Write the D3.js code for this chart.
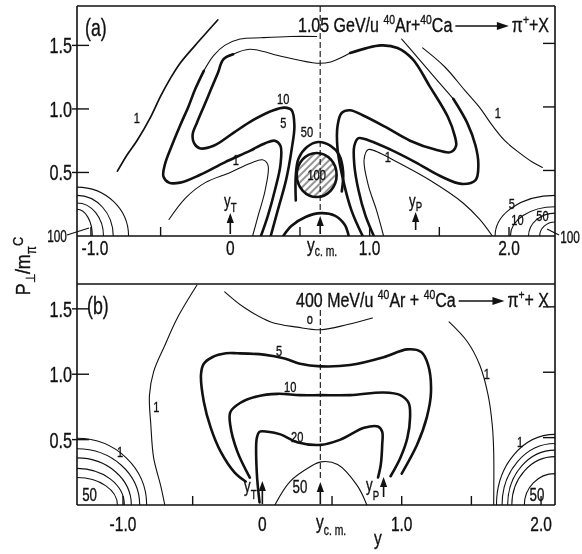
<!DOCTYPE html>
<html><head><meta charset="utf-8">
<script src="https://cdn.jsdelivr.net/npm/d3@7"></script>
<style>
body{margin:0;background:#fff;}
svg{display:block;filter:grayscale(100%);}
text{font-family:"Liberation Sans",Arial,sans-serif;fill:#111;stroke:#111;stroke-width:0.35px;}
</style></head><body>
<svg id="chart" width="582" height="554"></svg>
<script>
// ---------- panel (a): 1.05 GeV/u Ar+Ca -> pi+ X  (rapidity y, p_perp/m_pi c) ----------
const aRapidity = {yT: 0, ycm: 0.645, yP: 1.33};
const a_one_left = [[-0.81,0.51],[-0.74,0.64],[-0.67,0.75],[-0.57,0.94],[-0.50,1.10],[-0.43,1.24],[-0.36,1.36],[-0.22,1.54],[-0.09,1.70]];
const a_five_top = [[0.62,1.57],[0.43,1.57],[0.22,1.56],[0.07,1.55],[-0.04,1.50],[-0.12,1.42],[-0.19,1.30]];
const a_five_left = [[-0.19,1.30],[-0.25,1.16],[-0.30,1.02],[-0.36,0.87],[-0.42,0.71],[-0.47,0.56],[-0.48,0.47],[-0.44,0.42],[-0.36,0.42],[-0.22,0.48],[-0.04,0.58],[0.14,0.67],[0.25,0.73],[0.32,0.75],[0.36,0.71],[0.36,0.56],[0.32,0.36],[0.27,0.16],[0.22,0]];
const a_ten_left = [[0.29,0],[0.34,0.20],[0.40,0.44],[0.44,0.68],[0.46,0.87],[0.44,0.99],[0.39,1.01],[0.31,0.99],[0.16,0.91],[0.02,0.81],[-0.12,0.71],[-0.22,0.69],[-0.26,0.73],[-0.27,0.80],[-0.24,0.89],[-0.19,1.02],[-0.14,1.15],[-0.09,1.28],[-0.05,1.39],[0.02,1.43]];
const a_ten_mid = [[0.02,1.43],[0.14,1.47],[0.38,1.41],[0.62,1.36],[0.72,1.37],[0.86,1.44]];
const a_ten_right = [[0.86,1.44],[1.08,1.50],[1.20,1.48],[1.31,1.39],[1.43,1.18],[1.56,0.94],[1.61,0.79],[1.62,0.71],[1.58,0.66],[1.47,0.68],[1.29,0.75],[1.11,0.86],[0.95,0.95],[0.86,0.99],[0.80,0.97],[0.77,0.87],[0.77,0.68],[0.81,0.44],[0.87,0.20],[0.95,0]];
const a_five_right_top = [[1.23,1.55],[1.34,1.41],[1.48,1.23],[1.60,1.08]];
const a_five_right = [[1.60,1.08],[1.70,0.89],[1.76,0.71],[1.78,0.56],[1.76,0.44],[1.66,0.41],[1.51,0.47],[1.33,0.58],[1.15,0.68],[1.00,0.75],[0.92,0.77],[0.89,0.71],[0.89,0.56],[0.92,0.36],[0.97,0.16],[1.03,0]];
const a_one_right = [[1.38,1.48],[1.54,1.33],[1.68,1.15],[1.79,1.01],[1.88,0.87],[1.97,0.75],[2.08,0.65],[2.17,0.58],[2.24,0.54]];
const a_one_inner_left = [[-0.44,0.13],[-0.32,0.30],[-0.18,0.42],[0,0.50],[0.14,0.57],[0.23,0.60],[0.27,0.56],[0.25,0.36],[0.20,0.16],[0.16,0]];
const a_one_inner_right = [[1.10,0],[1.05,0.20],[0.99,0.40],[0.96,0.60],[0.99,0.68],[1.08,0.65],[1.20,0.58],[1.43,0.44],[1.67,0.26],[1.79,0.13],[1.88,0]];
const a_fifty_arch = [[0.47,0.28],[0.47,0.48],[0.49,0.61],[0.55,0.70],[0.63,0.74],[0.72,0.71],[0.78,0.64],[0.81,0.50],[0.80,0.35]];
const a_fifty_low = [[0.38,0],[0.44,0.08],[0.54,0.15],[0.65,0.18],[0.75,0.16],[0.82,0.09],[0.85,0]];
const a_peak100 = {cx: 0.62, cy: 0.48, rx: 0.143, ry: 0.173};
// quarter rings at the kinematic corners: where each level meets the y axis and the frame edge
const a_rings_left = [{ax:-0.73, ey:0.385},{ax:-0.84, ey:0.32},{ax:-0.91, ey:0.26},{ax:-0.99, ey:0.21}];
const a_rings_right = [{ax:1.90, ey:0.32},{ax:2.01, ey:0.23},{ax:2.14, ey:0.18},{ax:2.22, ey:0.11}];
const a_levelLabels = [
  {t:"1", x:-0.67, y:0.93}, {t:"10", x:0.38, y:1.08}, {t:"5", x:0.38, y:0.89},
  {t:"1", x:0.04, y:0.60}, {t:"50", x:0.55, y:0.82}, {t:"1", x:1.92, y:0.97},
  {t:"1", x:1.13, y:0.62}, {t:"5", x:2.02, y:0.25}, {t:"10", x:2.06, y:0.13},
  {t:"50", x:2.24, y:0.16}
];

// ---------- panel (b): 400 MeV/u ----------
const bRapidity = {yT: 0, ycm: 0.416, yP: 0.87};
const b_one_left = [[-0.47,1.68],[-0.61,1.43],[-0.70,1.22],[-0.78,1.02],[-0.81,0.84],[-0.80,0.61],[-0.78,0.36],[-0.73,0.15],[-0.70,0]];
const b_zero_top = [[-0.27,1.63],[-0.13,1.51],[0.06,1.40],[0.25,1.36],[0.42,1.34],[0.61,1.38],[0.79,1.43]];
const b_five = [[-0.12,0.18],[-0.20,0.25],[-0.30,0.41],[-0.37,0.59],[-0.42,0.79],[-0.44,1.00],[-0.42,1.08],[-0.36,1.13],[-0.26,1.16],[-0.18,1.16],[0.01,1.15],[0.16,1.12],[0.27,1.08],[0.42,1.06],[0.63,1.07],[0.87,1.13],[1.04,1.19],[1.14,1.17],[1.19,1.07],[1.21,0.86],[1.18,0.67],[1.11,0.46],[1.00,0.24]];
const b_ten = [[-0.09,0.21],[-0.18,0.41],[-0.23,0.61],[-0.23,0.71],[-0.16,0.78],[-0.04,0.83],[0.11,0.85],[0.27,0.84],[0.42,0.84],[0.63,0.84],[0.87,0.86],[0.99,0.84],[1.05,0.78],[1.06,0.67],[1.04,0.51],[0.99,0.36],[0.92,0.22]];
const b_twenty = [[-0.02,0.02],[-0.04,0.25],[-0.04,0.51],[-0.02,0.56],[0.04,0.56],[0.13,0.54],[0.25,0.48],[0.42,0.46],[0.56,0.50],[0.73,0.59],[0.83,0.60],[0.86,0.56],[0.86,0.46],[0.85,0.31],[0.83,0.21]];
const b_fifty = [[0.09,0],[0.20,0.18],[0.34,0.29],[0.42,0.33],[0.54,0.31],[0.68,0.15],[0.75,0]];
const b_one_right = [[1.34,1.40],[1.47,1.25],[1.56,1.07],[1.62,0.84],[1.65,0.61],[1.66,0.41],[1.66,0]];
const b_rings_left = [{ax:-0.83, ey:0.51},{ax:-0.88, ey:0.43},{ax:-0.94, ey:0.36},{ax:-0.99, ey:0.28},{ax:-1.04, ey:0.21}];
const b_rings_right = [{ax:1.68, ey:0.54},{ax:1.72, ey:0.47},{ax:1.76, ey:0.42},{ax:1.79, ey:0.37},{ax:1.88, ey:0.24}];
const b_levelLabels = [
  {t:"1", x:-0.76, y:0.75}, {t:"o", x:0.34, y:1.42}, {t:"5", x:0.12, y:1.18},
  {t:"10", x:0.20, y:0.90}, {t:"20", x:0.25, y:0.52}, {t:"50", x:0.27, y:0.14, big:true},
  {t:"1", x:1.61, y:1.00}, {t:"1", x:-1.02, y:0.41}, {t:"50", x:-1.24, y:0.08, big:true},
  {t:"1", x:1.85, y:0.48}, {t:"50", x:1.97, y:0.08, big:true}
];

// ---------- axes ----------
const yTicks = [0.5, 1.0, 1.5];
const yTickLabels = ["0.5", "1.0", "1.5"];
const xTicks = [-1.0, -0.5, 0.5, 1.0, 1.5, 2.0];
const xTickLabels = [{v:-1.0, t:"-1.0"}, {v:0, t:"0"}, {v:1.0, t:"1.0"}, {v:2.0, t:"2.0"}];

const svg = d3.select("#chart");
const INK = "#111";
const SX = 0.74; // narrow lettering

const xa = d3.scaleLinear().domain([-1.1, 2.33]).range([77, 555]);
const ya = d3.scaleLinear().domain([0, 1.81]).range([236, 6]);
const xb = d3.scaleLinear().domain([-1.33, 2.10]).range([77, 555]);
const yb = d3.scaleLinear().domain([0, 1.69]).range([505, 284]);

const defs = svg.append("defs");
defs.append("clipPath").attr("id", "clipA").append("rect").attr("x", 77).attr("y", 6).attr("width", 478).attr("height", 230);
defs.append("clipPath").attr("id", "clipB").append("rect").attr("x", 77).attr("y", 284).attr("width", 478).attr("height", 221);
const pat = defs.append("pattern").attr("id", "hatch").attr("patternUnits", "userSpaceOnUse")
  .attr("width", 5).attr("height", 5).attr("patternTransform", "rotate(45)");
pat.append("line").attr("x1", 1).attr("y1", 0).attr("x2", 1).attr("y2", 5).attr("stroke", INK).attr("stroke-width", 0.9);

// rich text: parts {t, sup, sub, size}
function rich(parent, x, y, parts, o) {
  o = o || {};
  const size = o.size || 18;
  const t = parent.append("text")
    .attr("transform", `translate(${x},${y}) rotate(${o.rotate || 0}) scale(${o.sx || SX},1)`)
    .attr("font-size", size)
    .attr("text-anchor", o.anchor || "start");
  if (o.spacing) t.attr("letter-spacing", o.spacing);
  let shift = 0;
  parts.forEach(p => {
    const target = p.sup ? -(p.up || size * 0.42) : p.sub ? (p.down || size * 0.3) : 0;
    t.append("tspan").attr("dy", target - shift).attr("font-size", p.size || size).text(p.t);
    shift = target;
  });
  return t;
}
function label(parent, x, y, s, size, anchor, sx) {
  return parent.append("text")
    .attr("transform", `translate(${x},${y}) scale(${sx || SX},1)`)
    .attr("font-size", size).attr("text-anchor", anchor || "middle")
    .attr("dominant-baseline", "central").text(s);
}

const W = {thin: 1.1, mid: 1.7, thick: 2.6};

function drawPanel(cfg) {
  const {x, y, clip} = cfg;
  const g = svg.append("g");
  const plot = g.append("g").attr("clip-path", `url(#${clip})`);
  const line = d3.line().x(d => x(d[0])).y(d => y(d[1])).curve(d3.curveCatmullRom.alpha(0.5));

  cfg.strokes.forEach(([pts, w]) => {
    plot.append("path").attr("d", line(pts)).attr("fill", "none")
      .attr("stroke", INK).attr("stroke-width", W[w])
      .attr("stroke-linecap", "round").attr("stroke-linejoin", "round");
  });

  // corner rings
  const [x0, x1] = x.domain();
  cfg.ringsLeft.forEach(r => {
    const rx = x(r.ax) - x(x0), ry = y(0) - y(r.ey);
    plot.append("path").attr("d", `M${x(r.ax)},${y(0)} A${rx},${ry} 0 0 0 ${x(x0)},${y(r.ey)}`)
      .attr("fill", "none").attr("stroke", INK).attr("stroke-width", W.thin);
  });
  cfg.ringsRight.forEach(r => {
    const rx = x(x1) - x(r.ax), ry = y(0) - y(r.ey);
    plot.append("path").attr("d", `M${x(r.ax)},${y(0)} A${rx},${ry} 0 0 1 ${x(x1)},${y(r.ey)}`)
      .attr("fill", "none").attr("stroke", INK).attr("stroke-width", W.thin);
  });

  // c.m. rapidity (dashed)
  plot.append("line").attr("x1", x(cfg.rap.ycm)).attr("x2", x(cfg.rap.ycm))
    .attr("y1", cfg.dashTop).attr("y2", cfg.dashBottom)
    .attr("stroke", INK).attr("stroke-width", 1.1).attr("stroke-dasharray", "6,3");

  // arrows at y_T, y_cm, y_P
  cfg.arrows.forEach(a => {
    const ax = x(cfg.rap[a.k]);
    g.append("line").attr("x1", ax).attr("x2", ax).attr("y1", a.base).attr("y2", a.tip + 7)
      .attr("stroke", INK).attr("stroke-width", 1.6);
    g.append("path").attr("d", `M${ax},${a.tip} L${ax - 3.6},${a.tip + 10} L${ax + 3.6},${a.tip + 10} Z`).attr("fill", INK);
  });

  // level labels
  cfg.levelLabels.forEach(l => {
    label(g, x(l.x), y(l.y), l.t, l.big ? 18 : 15);
  });

  // frame ticks
  const [yb0] = y.range();
  yTicks.forEach((v, i) => {
    g.append("line").attr("x1", 72).attr("x2", 89).attr("y1", y(v)).attr("y2", y(v)).attr("stroke", INK).attr("stroke-width", 1.4);
    g.append("line").attr("x1", 543).attr("x2", 555).attr("y1", y(v) - 2).attr("y2", y(v) - 2).attr("stroke", INK).attr("stroke-width", 1.4);
    rich(g, 72, y(v) + 8, [{t: yTickLabels[i]}], {size: 22, anchor: "end"});
  });
  xTicks.forEach(v => {
    g.append("line").attr("x1", x(v)).attr("x2", x(v)).attr("y1", yb0).attr("y2", yb0 - 9).attr("stroke", INK).attr("stroke-width", 1.4);
  });
  xTickLabels.forEach(l => {
    rich(g, x(l.v) + (l.v < 0 ? cfg.negShift : 0), cfg.tickBase, [{t: l.t}], {size: 21, anchor: "middle"});
  });
  return g;
}

// ---------- frame ----------
const frame = svg.append("g").attr("stroke", INK).attr("stroke-width", 1.6).attr("fill", "none");
frame.append("line").attr("x1", 77).attr("x2", 77).attr("y1", 6).attr("y2", 505);
frame.append("line").attr("x1", 555).attr("x2", 555).attr("y1", 6).attr("y2", 505);
frame.append("line").attr("x1", 77).attr("x2", 555).attr("y1", 6).attr("y2", 6);
frame.append("line").attr("x1", 77).attr("x2", 555).attr("y1", ya(0)).attr("y2", ya(0));
frame.append("line").attr("x1", 77).attr("x2", 555).attr("y1", 284).attr("y2", 284);
frame.append("line").attr("x1", 77).attr("x2", 555).attr("y1", yb(0)).attr("y2", yb(0));

const gA = drawPanel({
  x: xa, y: ya, clip: "clipA", rap: aRapidity, dashTop: 6, dashBottom: 214,
  strokes: [
    [a_one_left, "mid"], [a_five_top, "thin"], [a_five_left, "thick"],
    [a_ten_left, "thick"], [a_ten_mid, "thin"], [a_ten_right, "thick"],
    [a_five_right_top, "thin"], [a_five_right, "thick"], [a_one_right, "thin"],
    [a_one_inner_left, "thin"], [a_one_inner_right, "thin"],
    [a_fifty_arch, "thick"], [a_fifty_low, "thick"]
  ],
  ringsLeft: a_rings_left, ringsRight: a_rings_right,
  arrows: [{k: "yT", tip: 213, base: 234}, {k: "ycm", tip: 216, base: 234}, {k: "yP", tip: 212, base: 230}],
  levelLabels: a_levelLabels, negShift: 4, tickBase: 255
});
const gB = drawPanel({
  x: xb, y: yb, clip: "clipB", rap: bRapidity, dashTop: 310, dashBottom: 480,
  strokes: [
    [b_one_left, "thin"], [b_zero_top, "thin"], [b_five, "thick"], [b_ten, "thick"],
    [b_twenty, "thick"], [b_fifty, "thin"], [b_one_right, "thin"]
  ],
  ringsLeft: b_rings_left, ringsRight: b_rings_right,
  arrows: [{k: "yT", tip: 481, base: 504}, {k: "ycm", tip: 482, base: 504}, {k: "yP", tip: 477, base: 497}],
  levelLabels: b_levelLabels, negShift: 0, tickBase: 531
});

// the 100 peak (hatched) in panel (a)
const pk = gA.append("g");
pk.append("ellipse").attr("cx", xa(a_peak100.cx)).attr("cy", ya(a_peak100.cy))
  .attr("rx", xa(a_peak100.cx + a_peak100.rx) - xa(a_peak100.cx))
  .attr("ry", ya(a_peak100.cy) - ya(a_peak100.cy + a_peak100.ry))
  .attr("fill", "url(#hatch)").attr("stroke", INK).attr("stroke-width", 2.6);
label(pk, xa(a_peak100.cx), ya(a_peak100.cy), "100", 15)
  .attr("stroke", "#fff").attr("stroke-width", 3).attr("paint-order", "stroke");

// corner "100" labels with leaders
label(svg, 57, ya(0), "100", 16);
svg.append("line").attr("x1", 67).attr("y1", ya(0) - 1).attr("x2", 89).attr("y2", ya(0) - 8).attr("stroke", INK).attr("stroke-width", 1.2);
label(svg, 570, ya(0) + 1, "100", 16);
svg.append("line").attr("x1", 547).attr("y1", ya(0) - 7).attr("x2", 559).attr("y2", ya(0) - 1).attr("stroke", INK).attr("stroke-width", 1.2);

// rapidity marker labels
rich(svg, 224, 207, [{t: "y"}, {t: "T", sub: true, size: 13, down: 5}], {size: 18});
rich(svg, 409, 207, [{t: "y"}, {t: "P", sub: true, size: 13, down: 4}], {size: 18});
rich(svg, 244, 492, [{t: "y"}, {t: "T", sub: true, size: 13, down: 7}], {size: 18});
rich(svg, 366, 491, [{t: "y"}, {t: "P", sub: true, size: 13, down: 9}], {size: 18});
rich(svg, 307, 252, [{t: "y", size: 21}, {t: "c. m.", sub: true, size: 14, down: 4}], {size: 21});
rich(svg, 316, 529, [{t: "y", size: 21}, {t: "c. m.", sub: true, size: 14, down: 6}], {size: 21});
rich(svg, 378, 545, [{t: "y"}], {size: 21, anchor: "middle"});

// panel tags
rich(svg, 85, 36, [{t: "(a)"}], {size: 24});
rich(svg, 87, 314, [{t: "(b)"}], {size: 24});

// reaction titles with the long arrow
function title(xl, xr, base, head, plus, tail) {
  const left = rich(svg, xl, base, [{t: head + " "}, {t: "40", sup: true, size: 13, up: 8}, {t: plus}, {t: "40", sup: true, size: 13, up: 8}, {t: "Ca"}], {size: 20, sx: 0.8});
  const right = rich(svg, xr, base, [{t: "π"}, {t: "+", sup: true, size: 13, up: 8}, {t: tail}], {size: 20, sx: 0.8, anchor: "end"});
  const lw = left.node().getComputedTextLength() * 0.8;
  const rw = right.node().getComputedTextLength() * 0.8;
  const a0 = xl + lw + 3, a1 = xr - rw - 3;
  svg.append("line").attr("x1", a0).attr("x2", a1 - 8).attr("y1", base - 6).attr("y2", base - 6).attr("stroke", INK).attr("stroke-width", 1.4);
  svg.append("path").attr("d", `M${a1},${base - 6} L${a1 - 12},${base - 10} L${a1 - 12},${base - 2} Z`).attr("fill", INK);
}
title(298, 549, 32, "1.05 GeV/u", "Ar+", "+X");
title(296, 549, 307, "400 MeV/u", "Ar + ", "+ X");

// vertical axis title
rich(svg, 30, 266, [{t: "P"}, {t: "⊥", sub: true, size: 13, down: 5}, {t: "/m"}, {t: "π", sub: true, size: 14, down: 6}, {t: "C", sup: true, size: 15, up: 7}], {size: 21, rotate: -90, anchor: "middle", sx: 0.85});
</script>
</body></html>
